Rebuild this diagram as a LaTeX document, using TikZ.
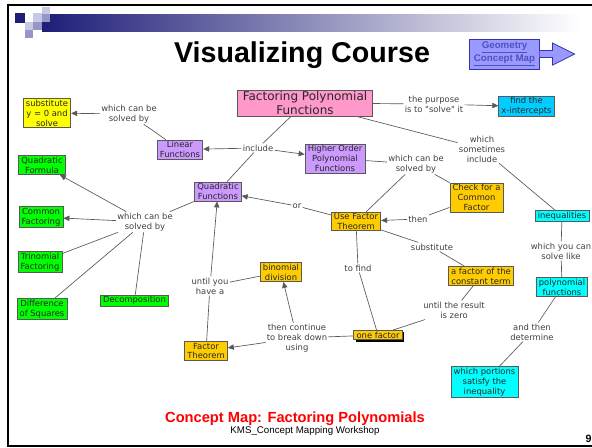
\documentclass[tikz,border=0pt]{standalone}
\usepackage{fontspec}
\usetikzlibrary{arrows.meta,shadows}
\newfontfamily\mapfont{DejaVu Sans}
\newfontfamily\headfont{Liberation Sans}
\definecolor{conpink}{HTML}{FF99CC}
\definecolor{conpurple}{HTML}{CC99FF}
\definecolor{congold}{HTML}{FFCC00}
\definecolor{congreen}{HTML}{00FF00}
\definecolor{concyan}{HTML}{00FFFF}
\definecolor{consky}{HTML}{00CCFF}
\definecolor{conyellow}{HTML}{FFFF00}
\definecolor{barnavy}{HTML}{1E1E78}
\definecolor{sqlight}{HTML}{C8C8E6}
\definecolor{sqmid}{HTML}{9696C8}
\definecolor{geofill}{HTML}{9999FF}
\definecolor{geoline}{HTML}{3333AA}
\definecolor{geotext}{HTML}{5050C0}
\tikzset{
  concept/.style={draw=black!65, line width=0.6pt, inner xsep=2pt, inner ysep=1pt,
    align=center, text=black!85, font=\mapfont\fontsize{6.3}{7.4}\selectfont},
  linkword/.style={inner sep=0.8pt, align=center, text=black!75,
    font=\mapfont\fontsize{6.3}{7.4}\selectfont},
  conn/.style={draw=black!65, line width=0.5pt},
  arr/.style={conn, -{Triangle[length=4.5pt,width=4pt]}},
  geobox/.style={draw=geoline, fill=geofill, line width=0.6pt, align=center,
    minimum width=52pt, minimum height=22.5pt, inner sep=1pt, text=geotext,
    font=\headfont\bfseries\fontsize{7.3}{8.6}\selectfont}
}
\begin{document}
\begin{tikzpicture}[x=0.75pt, y=-0.75pt]
    \useasboundingbox (0,0) rectangle (592,447);

    % slide frame and header bar
    \shade[left color=barnavy, right color=white] (42,14) rectangle (580,31);
    \fill[barnavy] (15,13) rectangle (25,23);
    \fill[sqlight] (33,13) rectangle (42,22);
    \fill[sqlight] (42,7) rectangle (50,14);
    \fill[sqmid] (42,14) rectangle (50,22);
    \fill[sqlight] (25,22) rectangle (33,30);
    \fill[sqmid] (33,22) rectangle (42,30);
    \fill[sqmid] (25,30) rectangle (33,38);
    \draw[line width=1.5pt] (592,5) -- (8,5) -- (8,445.5) -- (592,445.5);

    % titles
    \node[anchor=base, font=\headfont\bfseries\fontsize{21.5}{25}\selectfont] (title) at (302,62) {Visualizing Course};
    \node[geobox] (geo) at (504.5,54) {\underline{Geometry}\\\underline{Concept Map}};
    \draw[draw=geoline, fill=geofill, line width=0.6pt] ([yshift=2.6pt]geo.east) -- ++(13,0) -- ++(0,-7.5)
        -- ++(22,11) -- ++(-22,11) -- ++(0,-7.5) -- ++(-13,0);

    % concepts
    \node[concept, fill=conpink, inner xsep=4pt, font=\mapfont\fontsize{9}{10.5}\selectfont] (fpf) at (305,103) {Factoring Polynomial\\Functions};
    \node[concept, fill=consky] (xint) at (526.5,106.5) {find the\\x-intercepts};
    \node[concept, fill=conyellow] (subst) at (47,113) {substitute\\y = 0 and\\solve};
    \node[concept, fill=conpurple] (lin) at (180,149.5) {Linear\\Functions};
    \node[concept, fill=conpurple] (hop) at (335,158.5) {Higher Order\\Polynomial\\Functions};
    \node[concept, fill=congold] (check) at (476.5,197.5) {Check for a\\Common\\Factor};
    \node[concept, fill=conpurple] (quad) at (218,191.5) {Quadratic\\Functions};
    \node[concept, fill=congold] (uft) at (356,221.5) {Use Factor\\Theorem};
    \node[concept, fill=concyan] (ineq) at (562,216) {inequalities};
    \node[concept, fill=congreen] (qf) at (42,165) {Quadratic\\Formula};
    \node[concept, fill=congreen] (cf) at (41,217) {Common\\Factoring};
    \node[concept, fill=congreen] (tf) at (40,262) {Trinomial\\Factoring};
    \node[concept, fill=congreen] (dos) at (42,309) {Difference\\of Squares};
    \node[concept, fill=congreen] (dec) at (134.5,300.5) {Decomposition};
    \node[concept, fill=congold] (bd) at (281,272) {binomial\\division};
    \node[concept, fill=congold] (afc) at (481,276) {a factor of the\\constant term};
    \node[concept, fill=concyan] (pf) at (562,287) {polynomial\\functions};
    \node[concept, fill=congold, drop shadow={opacity=1, fill=black, shadow xshift=1.5pt, shadow yshift=-1.5pt}] (of) at (378,335) {one factor};
    \node[concept, fill=congold] (ft) at (206,351) {Factor\\Theorem};
    \node[concept, fill=concyan] (wp) at (484.5,382) {which portions\\satisfy the\\inequality};

    % linking phrases
    \node[linkword] (purpose) at (434,104) {the purpose\\is to "solve" it};
    \node[linkword] (sometimes) at (482,149) {which\\sometimes\\include};
    \node[linkword] (solvA) at (129,114) {which can be\\solved by};
    \node[linkword] (incl) at (258,148) {include};
    \node[linkword] (solvB) at (416,164) {which can be\\solved by};
    \node[linkword] (or) at (297,206) {or};
    \node[linkword] (then) at (418,219) {then};
    \node[linkword] (solvC) at (145,222) {which can be\\solved by};
    \node[linkword] (solvelike) at (561,251) {which you can\\solve like};
    \node[linkword] (substl) at (432,247) {substitute};
    \node[linkword] (tofind) at (358,268) {to find};
    \node[linkword] (havea) at (210,286) {until you\\have a};
    \node[linkword] (zero) at (454,310) {until the result\\is zero};
    \node[linkword] (determine) at (532,332) {and then\\determine};
    \node[linkword] (cont) at (297,338) {then continue\\to break down\\using};

    % connectors
    \draw[conn] (fpf) -- (incl);
    \draw[arr] (incl) -- (lin);
    \draw[arr] (incl) -- (hop);
    \draw[conn] (incl) -- (quad);
    \draw[conn] (fpf) -- (purpose);
    \draw[arr] (purpose) -- (xint);
    \draw[conn] (fpf) -- (sometimes);
    \draw[conn] (sometimes) -- (ineq);
    \draw[conn] (lin) -- (solvA);
    \draw[arr] (solvA) -- (subst);
    \draw[conn] (hop) -- (solvB);
    \draw[conn] (solvB) -- (uft);
    \draw[conn] (solvB) -- (check);
    \draw[conn] (check) -- (then);
    \draw[arr] (then) -- (uft);
    \draw[conn] (uft) -- (or);
    \draw[arr] (or) -- (quad);
    \draw[conn] (quad) -- (solvC);
    \draw[arr] (solvC) -- (qf);
    \draw[arr] (solvC) -- (cf);
    \draw[conn] (solvC) -- (tf);
    \draw[conn] (solvC) -- (dos);
    \draw[conn] (solvC) -- (dec);
    \draw[conn] (ft) -- (havea);
    \draw[arr] (havea) -- (quad);
    \draw[conn] (havea) -- (bd);
    \draw[conn] (of) -- (cont);
    \draw[arr] (cont) -- (ft);
    \draw[arr] (cont) -- (bd);
    \draw[conn] (uft) -- (tofind);
    \draw[conn] (tofind) -- (of);
    \draw[conn] (uft) -- (substl);
    \draw[conn] (substl) -- (afc);
    \draw[conn] (afc) -- (zero);
    \draw[conn] (zero) -- (of);
    \draw[conn] (ineq) -- (solvelike);
    \draw[conn] (solvelike) -- (pf);
    \draw[conn] (pf) -- (determine);
    \draw[conn] (determine) -- (wp);

    % footer
    \node[anchor=base, text=red, font=\headfont\bfseries\fontsize{11}{13}\selectfont] (foot) at (295,422) {Concept Map: Factoring Polynomials};
    \node[anchor=base, font=\headfont\fontsize{7.3}{8.5}\selectfont] (workshop) at (305,433) {KMS\_Concept Mapping Workshop};
    \node[anchor=base, font=\headfont\bfseries\fontsize{8}{9}\selectfont] (pagenum) at (588.5,442) {9};
\end{tikzpicture}
\end{document}
